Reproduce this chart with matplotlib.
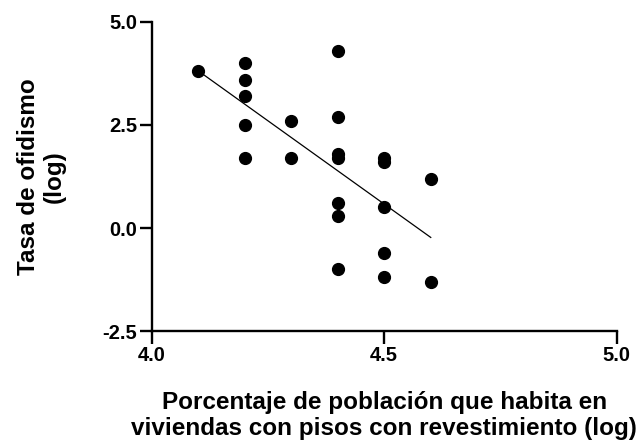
import numpy as np
import matplotlib
matplotlib.use("Agg")
import matplotlib.pyplot as plt

# pisos con revestimiento (log) vs tasa de ofidismo (log)
x_vals = [4.1,
          4.2, 4.2, 4.2, 4.2, 4.2,
          4.3, 4.3,
          4.4, 4.4, 4.4, 4.4, 4.4, 4.4, 4.4,
          4.5, 4.5, 4.5, 4.5, 4.5,
          4.6, 4.6]
y_vals = [3.8,
          4.0, 3.6, 3.2, 2.5, 1.7,
          2.6, 1.7,
          4.3, 2.7, 1.8, 1.7, 0.6, 0.3, -1.0,
          1.7, 1.6, 0.5, -0.6, -1.2,
          1.2, -1.3]

x_ticks = [4.0, 4.5, 5.0]
y_ticks = [-2.5, 0.0, 2.5, 5.0]

plt.rcParams['font.family'] = ['Liberation Sans', 'DejaVu Sans']
plt.rcParams['font.weight'] = 'bold'

fig = plt.figure(figsize=(6.41, 4.48), dpi=100)
ax = fig.add_axes([0.2367, 0.261, 0.7255, 0.69])

x = np.array(x_vals)
y = np.array(y_vals)
ax.plot(x, y, 'o', color='black', markersize=8.5, clip_on=False)

# linear regression line over the data range
m, b = np.polyfit(x, y, 1)
xl = np.array([x.min(), x.max()])
ax.plot(xl, m * xl + b, color='black', linewidth=0.9)

ax.set_xlim(4.0, 5.0)
ax.set_ylim(-2.5, 5.0)
ax.set_xticks(x_ticks)
ax.set_yticks(y_ticks)
ax.set_xticklabels([f"{t:.1f}" for t in x_ticks], fontsize=14.5, fontweight='bold')
ax.set_yticklabels([f"{t:.1f}" for t in y_ticks], fontsize=14.5, fontweight='bold')

for s in ['top', 'right']:
    ax.spines[s].set_visible(False)
for s in ['left', 'bottom']:
    ax.spines[s].set_linewidth(1.7)
ax.tick_params(direction='out', length=9, width=1.7, pad=1.5)

ax.set_xlabel("Porcentaje de población que habita en\nviviendas con pisos con revestimiento (log)",
              fontsize=17.5, fontweight='bold', linespacing=1.15)
ax.xaxis.set_label_coords(0.5, -0.195)
ax.set_ylabel("Tasa de ofidismo\n(log)", fontsize=17.5, fontweight='bold', linespacing=1.15)
ax.yaxis.set_label_coords(-0.185, 0.5)

fig.savefig("out.png", dpi=100)
